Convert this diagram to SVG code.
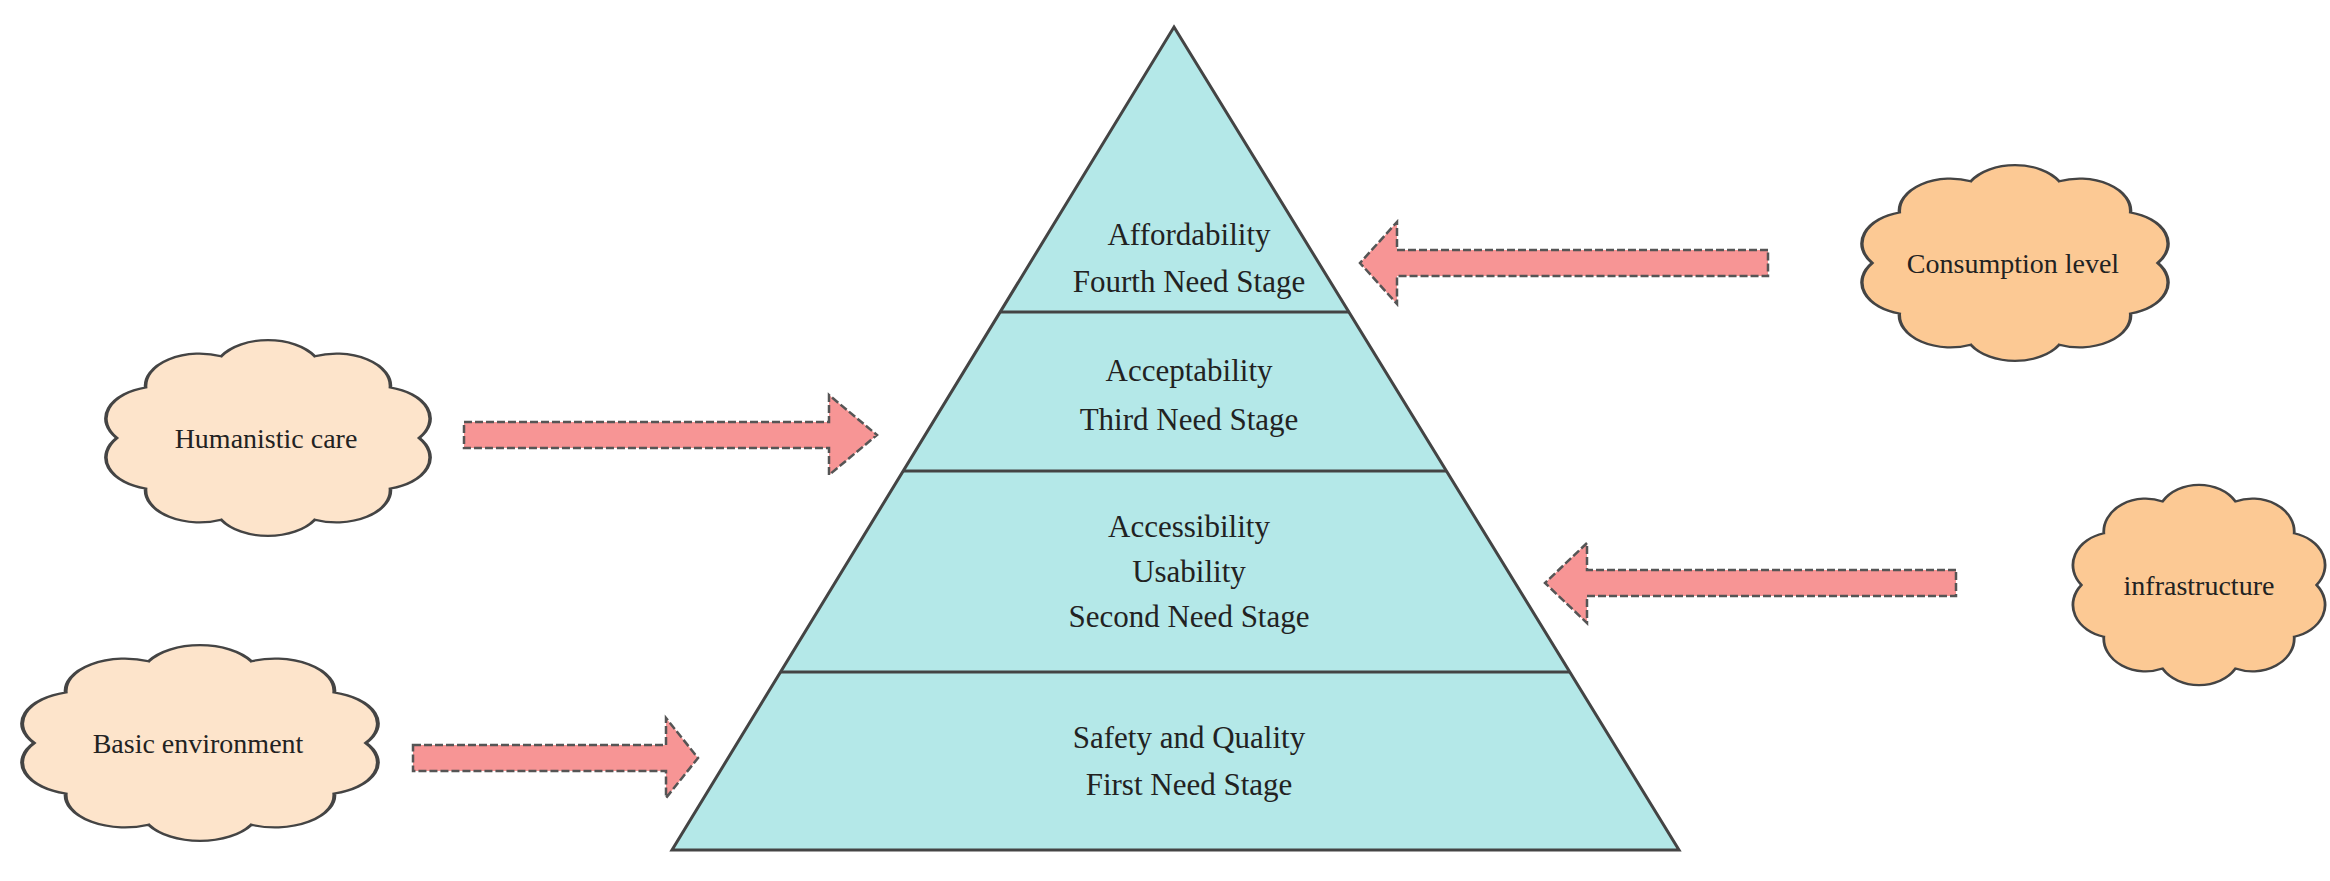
<svg xmlns="http://www.w3.org/2000/svg" width="2330" height="881" viewBox="0 0 2330 881">
<style>
.t{font-family:"Liberation Serif",serif;fill:#222;text-anchor:middle}
.p{font-size:31px}
.c{font-size:28px}
.cloud{stroke:#444;stroke-width:3}
.lt{fill:#fde4cb}
.dk{fill:#fcc994}
.ar{fill:#f79595;stroke:#555;stroke-width:2.5;stroke-dasharray:8 3}
.lv{fill:#b4e8e8;stroke:#444;stroke-width:3}
</style>
<defs>
<path id="cl" d="M42,0 A15,15 0 0 1 34,23.5 A15,15 0 0 1 13,38 A15,15 0 0 1 -13,38 A15,15 0 0 1 -34,23.5 A15,15 0 0 1 -42,0 A15,15 0 0 1 -34,-23.5 A15,15 0 0 1 -13,-38 A15,15 0 0 1 13,-38 A15,15 0 0 1 34,-23.5 A15,15 0 0 1 42,0 Z"/>
</defs>
<rect width="2330" height="881" fill="#fff"/>
<g id="pyramid">
<polygon class="lv" points="1174,27 1679,850 672,850"/>
<line x1="1000" y1="312" x2="1349" y2="312" stroke="#444" stroke-width="3"/>
<line x1="903" y1="471" x2="1446" y2="471" stroke="#444" stroke-width="3"/>
<line x1="780" y1="672" x2="1570" y2="672" stroke="#444" stroke-width="3"/>
</g>
<g id="level4"><text class="t p" x="1189" y="245">Affordability</text><text class="t p" x="1189" y="292">Fourth Need Stage</text></g>
<g id="level3"><text class="t p" x="1189" y="381">Acceptability</text><text class="t p" x="1189" y="430">Third Need Stage</text></g>
<g id="level2"><text class="t p" x="1189" y="537">Accessibility</text><text class="t p" x="1189" y="582">Usability</text><text class="t p" x="1189" y="627">Second Need Stage</text></g>
<g id="level1"><text class="t p" x="1189" y="748">Safety and Quality</text><text class="t p" x="1189" y="795">First Need Stage</text></g>
<g id="humanistic"><use href="#cl" class="cloud lt" transform="translate(268,438) scale(3.6,2.15)" vector-effect="non-scaling-stroke" style="stroke-width:1"/><text class="t c" x="266" y="448">Humanistic care</text></g>
<g id="basic"><use href="#cl" class="cloud lt" transform="translate(200,743) scale(3.95,2.15)" style="stroke-width:1"/><text class="t c" x="198" y="753">Basic environment</text></g>
<g id="consumption"><use href="#cl" class="cloud dk" transform="translate(2015,263) scale(3.4,2.15)" style="stroke-width:1"/><text class="t c" x="2013" y="273">Consumption level</text></g>
<g id="infrastructure"><use href="#cl" class="cloud dk" transform="translate(2199,585) scale(2.8,2.2)" style="stroke-width:1"/><text class="t c" x="2199" y="595">infrastructure</text></g>
<g id="connectors">
<polygon class="ar" points="464,422 829,422 829,395 877,435 829,475 829,448 464,448"/>
<polygon class="ar" points="413,745 666,745 666,718 698,758 666,798 666,771 413,771"/>
<polygon class="ar" points="1768,250 1397,250 1397,222 1360,263 1397,304 1397,276 1768,276"/>
<polygon class="ar" points="1956,570 1587,570 1587,543 1545,583 1587,623 1587,596 1956,596"/>
</g>
</svg>
